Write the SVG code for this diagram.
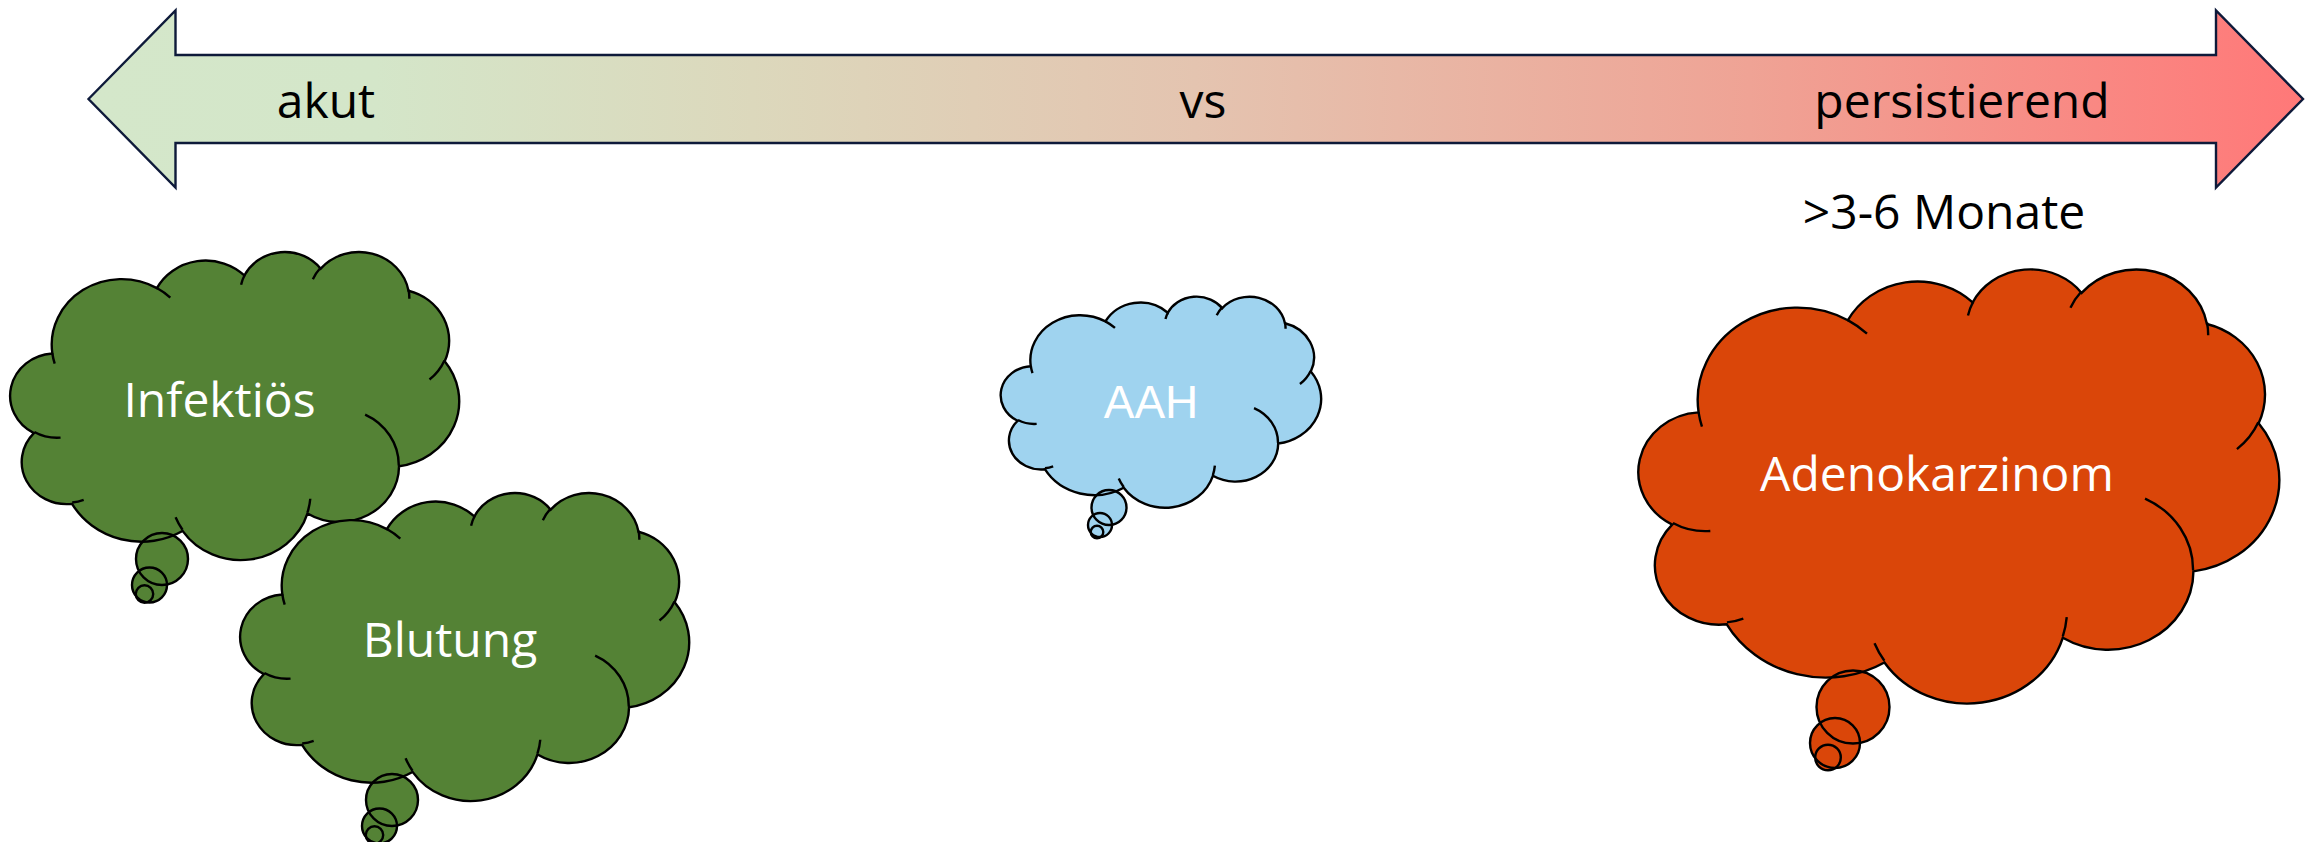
<svg xmlns="http://www.w3.org/2000/svg" xmlns:xlink="http://www.w3.org/1999/xlink" width="2315" height="842" viewBox="0 0 2315 842">
<style>
.lbl{font-family:"Open Sans","Liberation Sans",sans-serif;font-size:48px;fill:#000;text-anchor:middle}
.wt{font-family:"Open Sans","Liberation Sans",sans-serif;font-size:48px;fill:#fff;text-anchor:middle}
.wa{font-family:"Liberation Sans",Arial,sans-serif;font-size:46px;fill:#fff;text-anchor:middle}
.ol{fill:none;stroke:#000;stroke-width:2.4}
.green{fill:#548235}
.blue{fill:#9FD3EF}
.orange{fill:#DA4609}
</style>
<defs>
<linearGradient id="arrowGrad" gradientUnits="userSpaceOnUse" x1="88" y1="0" x2="2303" y2="0">
<stop offset="0" stop-color="#D4E7CA"/>
<stop offset="0.13" stop-color="#D4E6C9"/>
<stop offset="0.3" stop-color="#DCD8BC"/>
<stop offset="0.5" stop-color="#E4C4B0"/>
<stop offset="0.75" stop-color="#EFA395"/>
<stop offset="1" stop-color="#FF7878"/>
</linearGradient>
<path id="cloud" vector-effect="non-scaling-stroke" d="M3900 14370A6753 9190 0 0 1 14005 5202A5333 7267 0 0 1 22457 3431A4365 5945 0 0 1 29834 2479A4857 6595 0 0 1 38320 5574A5333 7273 0 0 1 41820 15458A6775 9220 0 0 1 37405 30199A5785 7867 0 0 1 28557 36810A6752 9215 0 0 1 16482 39262A7720 10543 0 0 1 5806 35467A4360 5918 0 0 1 2114 25546A4345 5945 0 0 1 3900 14370Z"/>
<path id="deco" vector-effect="non-scaling-stroke" d="M4693 26177A4345 5945 0 0 1 2160 25380M6928 34899A4360 5918 0 0 1 5820 35280M16478 39090A6752 9215 0 0 1 15810 37348M28827 34751A6752 9215 0 0 1 28560 36660M34129 22954A5785 7867 0 0 1 37380 30090M41798 15354A5333 7273 0 0 1 40350 18030M38324 5426A4857 6595 0 0 1 38401 6690M29078 3952A4857 6595 0 0 1 29820 2341M22141 4720A4365 5945 0 0 1 22500 3331M14000 5192A6753 9190 0 0 1 15300 6541M4127 15789A6753 9190 0 0 1 3900 14371"/>
</defs>
<rect width="2315" height="842" fill="#fff"/>

<g id="connectors">
<g id="scale-arrow">
<polygon points="88.5,99 175.5,10.5 175.5,55 2216,55 2216,10.5 2303,99 2216,187.5 2216,143 175.5,143 175.5,187.5" fill="url(#arrowGrad)" stroke="#0E1A3A" stroke-width="2.4" stroke-linejoin="miter"/>
<text class="lbl" x="326" y="118">akut</text>
<text class="lbl" x="1203" y="118">vs</text>
<text class="lbl" x="1962" y="118">persistierend</text>
</g>
</g>
<g id="label-duration">
<text class="lbl" x="1944" y="229">&gt;3-6 Monate</text>
</g>

<g id="node-infektioes">
<use xlink:href="#cloud" href="#cloud" transform="translate(12,251) scale(0.010347,0.0071296)" class="green"/>
<circle cx="162" cy="559" r="26" class="green"/>
<circle cx="149.5" cy="585" r="17.5" class="green"/>
<circle cx="144.5" cy="594" r="8.7" class="green"/>
<use xlink:href="#cloud" href="#cloud" transform="translate(12,251) scale(0.010347,0.0071296)" class="ol"/>
<use xlink:href="#deco" href="#deco" transform="translate(12,251) scale(0.010347,0.0071296)" class="ol"/>
<circle cx="162" cy="559" r="26" class="ol"/>
<circle cx="149.5" cy="585" r="17.5" class="ol"/>
<circle cx="144.5" cy="594" r="8.7" class="ol"/>
<text class="wt" x="219.5" y="417">Infektiös</text>
</g>

<g id="node-blutung">
<use xlink:href="#cloud" href="#cloud" transform="translate(242,492) scale(0.010347,0.0071296)" class="green"/>
<circle cx="392" cy="800" r="26" class="green"/>
<circle cx="379.5" cy="826" r="17.5" class="green"/>
<circle cx="374.5" cy="835" r="8.7" class="green"/>
<use xlink:href="#cloud" href="#cloud" transform="translate(242,492) scale(0.010347,0.0071296)" class="ol"/>
<use xlink:href="#deco" href="#deco" transform="translate(242,492) scale(0.010347,0.0071296)" class="ol"/>
<circle cx="392" cy="800" r="26" class="ol"/>
<circle cx="379.5" cy="826" r="17.5" class="ol"/>
<circle cx="374.5" cy="835" r="8.7" class="ol"/>
<text class="wt" x="450" y="657">Blutung</text>
</g>

<g id="node-aah">
<use xlink:href="#cloud" href="#cloud" transform="translate(1002,296) scale(0.0073843,0.0048843)" class="blue"/>
<circle cx="1109" cy="507.5" r="17.5" class="blue"/>
<circle cx="1100" cy="525" r="12" class="blue"/>
<circle cx="1097" cy="532" r="6.3" class="blue"/>
<use xlink:href="#cloud" href="#cloud" transform="translate(1002,296) scale(0.0073843,0.0048843)" class="ol"/>
<use xlink:href="#deco" href="#deco" transform="translate(1002,296) scale(0.0073843,0.0048843)" class="ol"/>
<circle cx="1109" cy="507.5" r="17.5" class="ol"/>
<circle cx="1100" cy="525" r="12" class="ol"/>
<circle cx="1097" cy="532" r="6.3" class="ol"/>
<text class="wa" x="1151" y="418">AAH</text>
</g>

<g id="node-adenokarzinom">
<use xlink:href="#cloud" href="#cloud" transform="translate(1641,268) scale(0.014769,0.010046)" class="orange"/>
<circle cx="1853" cy="707" r="36.5" class="orange"/>
<circle cx="1835" cy="743" r="25" class="orange"/>
<circle cx="1828" cy="757.5" r="12.8" class="orange"/>
<use xlink:href="#cloud" href="#cloud" transform="translate(1641,268) scale(0.014769,0.010046)" class="ol"/>
<use xlink:href="#deco" href="#deco" transform="translate(1641,268) scale(0.014769,0.010046)" class="ol"/>
<circle cx="1853" cy="707" r="36.5" class="ol"/>
<circle cx="1835" cy="743" r="25" class="ol"/>
<circle cx="1828" cy="757.5" r="12.8" class="ol"/>
<text class="wt" x="1937" y="491">Adenokarzinom</text>
</g>
</svg>
